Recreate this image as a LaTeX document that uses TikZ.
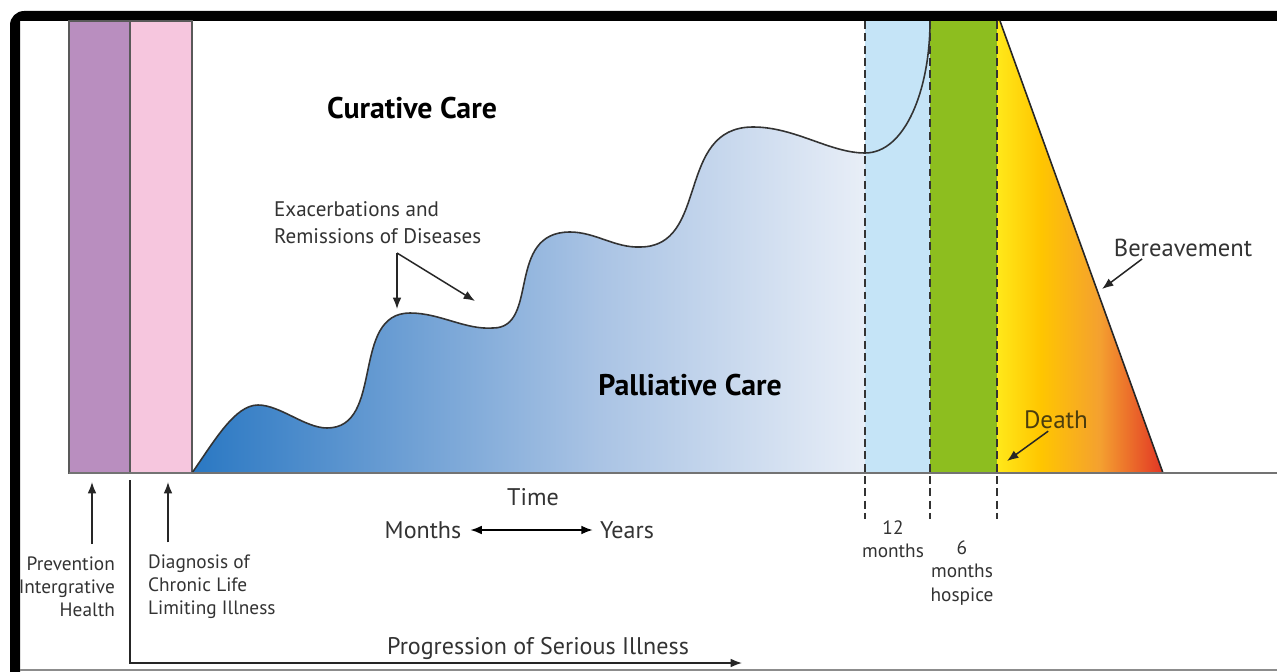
\documentclass[tikz,border=0pt]{standalone}
\usepackage{fontspec}
\setmainfont{PT Sans}
\usetikzlibrary{arrows.meta}

\definecolor{prevpurple}{HTML}{B98EBF}
\definecolor{diagpink}{HTML}{F6C6DE}
\definecolor{yearblue}{HTML}{C5E4F7}
\definecolor{hospgreen}{HTML}{8DBE1F}
\definecolor{palA}{HTML}{2A78C3}
\definecolor{palB}{HTML}{6A9DD3}
\definecolor{palC}{HTML}{A9C3E4}
\definecolor{palD}{HTML}{E8EEF7}
\definecolor{grA}{HTML}{FFE81A}
\definecolor{grB}{HTML}{FFC600}
\definecolor{grC}{HTML}{F4A030}
\definecolor{grD}{HTML}{E33B25}
\definecolor{inkgray}{HTML}{333333}
\definecolor{deathbrown}{HTML}{4B3D0E}

\pgfdeclarehorizontalshading{palshade}{100bp}{color(0bp)=(palA); color(25bp)=(palA);
  color(40bp)=(palB); color(55bp)=(palC); color(75bp)=(palD); color(100bp)=(palD)}
\pgfdeclarehorizontalshading{griefshade}{100bp}{color(0bp)=(grA); color(25bp)=(grA);
  color(38bp)=(grB); color(56bp)=(grC); color(74bp)=(grD); color(100bp)=(grD)}

\tikzset{
  txt/.style={inner sep=1pt, text=inkgray, font=\fontsize{13.7}{16}\selectfont},
  smalltxt/.style={txt, font=\fontsize{11}{13.2}\selectfont},
  titletxt/.style={inner sep=1pt, text=black, font=\fontsize{17}{19}\selectfont\bfseries},
  arr/.style={-{Latex[length=6.5pt,width=5pt]}, line width=0.85pt, draw=black!85},
  edge/.style={draw=black!65, line width=0.9pt},
  marker/.style={draw=inkgray, line width=1.1pt, dash pattern=on 4.5pt off 2.5pt}
}

\begin{document}
\begin{tikzpicture}[x=0.02cm, y=-0.02cm]
  \useasboundingbox (0,0) rectangle (1277,672);
  \fill[white] (0,0) rectangle (1277,672);

  % frame
  \fill[black] (10,690) [rounded corners=8pt] -- (10,11) [sharp corners] -- (1295,11)
    -- (1295,21) -- (20,21) -- (20,690) -- cycle;
  \draw[black!45, line width=0.6pt] (20,670) -- (1277,670);

  % bars
  \filldraw[fill=prevpurple, edge] (69,21) rectangle (130,473);
  \filldraw[fill=diagpink, edge] (130,21) rectangle (192,473);
  \fill[yearblue] (865,21) rectangle (930,473);
  \fill[hospgreen] (930,21) rectangle (997,473);
  \shade[shading=griefshade] (997,21) -- (1000,21) -- (1163,473) -- (997,473) -- cycle;
  \draw[black!85, line width=0.9pt] (1000,21) -- (1163,473);

  % palliative care curve
  \shade[shading=palshade] (192,473)
    .. controls (215,440) and (235,405) .. (258,405)
    .. controls (280,405) and (305,428) .. (327,428)
    .. controls (385,428) and (350,313) .. (410,313)
    .. controls (440,313) and (465,330) .. (493,328)
    .. controls (540,328) and (505,232) .. (570,232)
    .. controls (595,232) and (615,248) .. (640,247)
    .. controls (710,247) and (675,127) .. (753,127)
    .. controls (795,127) and (830,153) .. (865,153)
    -- (865,473) -- cycle;
  \draw[inkgray, line width=0.9pt] (192,473)
    .. controls (215,440) and (235,405) .. (258,405)
    .. controls (280,405) and (305,428) .. (327,428)
    .. controls (385,428) and (350,313) .. (410,313)
    .. controls (440,313) and (465,330) .. (493,328)
    .. controls (540,328) and (505,232) .. (570,232)
    .. controls (595,232) and (615,248) .. (640,247)
    .. controls (710,247) and (675,127) .. (753,127)
    .. controls (795,127) and (830,153) .. (865,153)
    .. controls (905,153) and (930,90) .. (930,21);

  % time axis and markers
  \draw[black!55, line width=1.4pt] (69,473) -- (1277,473);
  \foreach \xd in {865,930,997}
    \draw[marker] (\xd,21) -- (\xd,519);

  % labels
  \node[titletxt] (curative) at (412,108) {Curative Care};
  \node[titletxt] (palliative) at (690,385) {Palliative Care};
  \node[txt, font=\fontsize{12}{15.4}\selectfont, align=left, anchor=west] (exacer) at (272,223)
    {Exacerbations and\\Remissions of Diseases};
  \coordinate (exfork) at (397,253);
  \coordinate (extipA) at (397,309);
  \coordinate (extipB) at (475,301);
  \draw[arr] (exfork) -- (extipA);
  \draw[arr] (exfork) -- (extipB);

  \node[txt] (time) at (533,497) {Time};
  \node[txt] (months) at (423,530) {Months};
  \node[txt] (years) at (627,530) {Years};
  \draw[{Latex[length=6.5pt,width=5pt]}-{Latex[length=6.5pt,width=5pt]}, line width=0.85pt,
    shorten <=4pt, shorten >=3pt] (months) -- (years);

  \node[smalltxt, align=right, anchor=east] (prev) at (117,587)
    {Prevention\\Intergrative\\Health};
  \node[smalltxt, align=left, anchor=west] (diag) at (146,587)
    {Diagnosis of\\Chronic Life\\Limiting Illness};
  \coordinate (prevtip) at (92,482);
  \coordinate (diagtip) at (168,482);
  \draw[arr, shorten <=6pt] (prev.north -| prevtip) -- (prevtip);
  \draw[arr, shorten <=6pt] (diag.north -| diagtip) -- (diagtip);

  \node[smalltxt, align=center] (twelve) at (893,539) {12\\months};
  \node[smalltxt, align=center] (six) at (962,573) {6\\months\\hospice};

  \node[txt, text=deathbrown, font=\fontsize{14.3}{16}\selectfont] (death) at (1056,420) {Death};
  \coordinate (deathtip) at (1007,461);
  \draw[arr] (death.235) -- (deathtip);
  \node[txt, font=\fontsize{14}{16}\selectfont] (bereav) at (1183,248) {Bereavement};
  \coordinate (bereavtip) at (1102,289);
  \draw[arr] (bereav.195) -- (bereavtip);

  % progression
  \node[txt] (progress) at (538,648) {Progression of Serious Illness};
  \coordinate (progstart) at (130,480);
  \coordinate (progend) at (742,663);
  \draw[arr] (progstart) |- (progend);
\end{tikzpicture}
\end{document}
